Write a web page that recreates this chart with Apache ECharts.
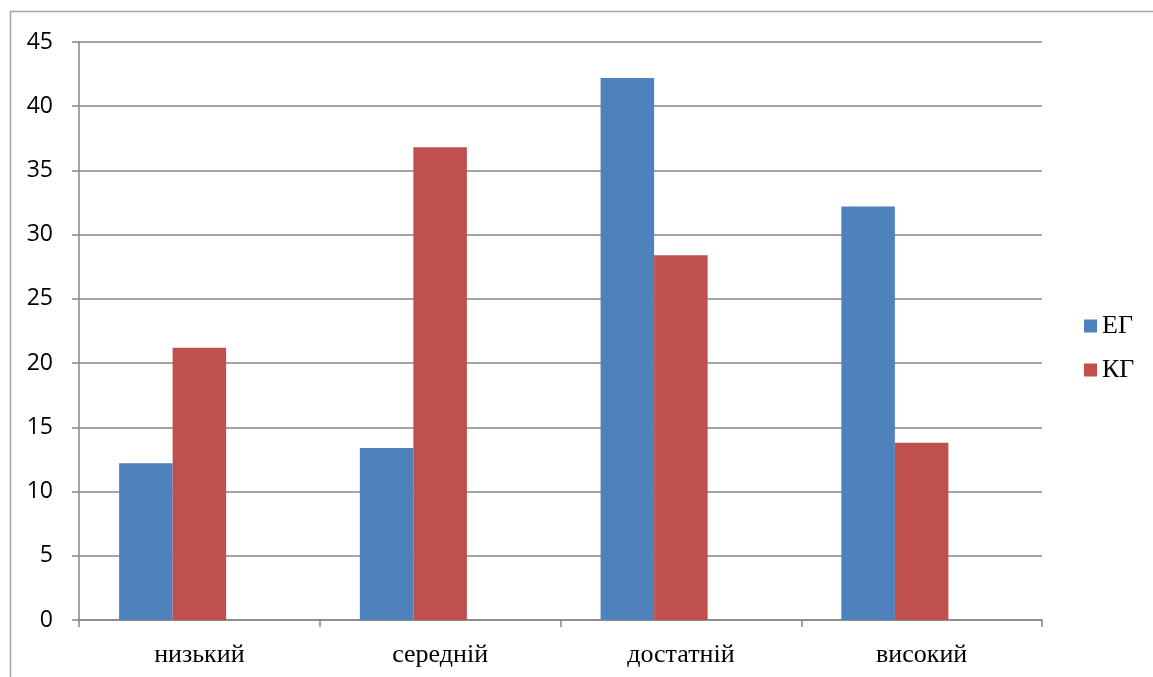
<!DOCTYPE html>
<html><head><meta charset="utf-8">
<script src="https://cdn.jsdelivr.net/npm/echarts@6/dist/echarts.min.js"></script>
<style>html,body{margin:0;padding:0;background:#fff;}#c{width:1153px;height:677px;}</style>
</head><body><div id="c"></div>
<script>
const categories = ['низький', 'середній', 'достатній', 'високий'];
const seriesNames = ['ЕГ', 'КГ'];
const egValues = [12.2, 13.4, 42.2, 32.2];
const kgValues = [21.2, 36.8, 28.4, 13.8];
const emptyValues = [null, null, null, null];

const chart = echarts.init(document.getElementById('c'), null, {renderer: 'canvas'});
chart.setOption({
  animation: false,
  backgroundColor: '#fff',
  graphic: [{
    type: 'polyline', silent: true,
    shape: {points: [[10.5, 700], [10.5, 11.5], [1200, 11.5]]},
    style: {fill: 'none', stroke: '#a6a6a6', lineWidth: 1.5}
  }],
  grid: {left: 79, right: 111, top: 42, bottom: 57, containLabel: false},
  legend: {
    orient: 'vertical', left: 1079, top: 308, itemGap: 18,
    itemWidth: 13, itemHeight: 13, icon: 'rect',
    data: seriesNames,
    textStyle: {fontFamily: 'Liberation Serif', fontSize: 26, color: '#000', padding: [0, 0, 0, 0]}
  },
  xAxis: {
    type: 'category', data: categories,
    axisLine: {lineStyle: {color: '#868686', width: 1.5}},
    axisTick: {show: true, length: 7, lineStyle: {color: '#868686', width: 1.5}},
    axisLabel: {fontFamily: 'Liberation Serif', fontSize: 26, color: '#000', margin: 22}
  },
  yAxis: {
    type: 'value', min: 0, max: 45, interval: 5,
    axisLine: {show: true, lineStyle: {color: '#868686', width: 1.5}},
    axisTick: {show: true, length: 7, lineStyle: {color: '#868686', width: 1.5}},
    splitLine: {lineStyle: {color: '#868686', width: 1.5}},
    axisLabel: {fontFamily: 'Open Sans', fontSize: 23, color: '#000', margin: 26}
  },
  series: [
    {name: seriesNames[0], type: 'bar', data: egValues, barGap: '0%', barCategoryGap: '33.3%',
     itemStyle: {color: '#4F81BD'}},
    {name: seriesNames[1], type: 'bar', data: kgValues, barGap: '0%', barCategoryGap: '33.3%',
     itemStyle: {color: '#C0504D'}},
    {name: 'empty', type: 'bar', data: emptyValues, barGap: '0%', barCategoryGap: '33.3%',
     itemStyle: {color: '#9BBB59'}}
  ]
});
</script></body></html>
